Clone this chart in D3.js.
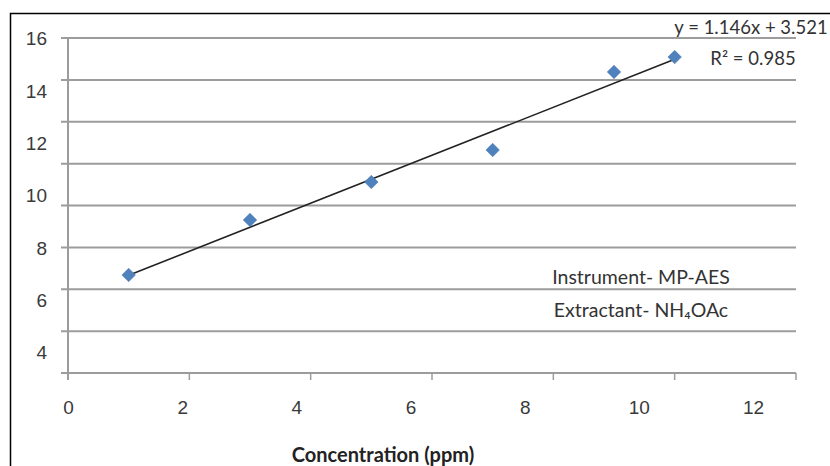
<!DOCTYPE html>
<html>
<head>
<meta charset="utf-8">
<script src="https://cdn.jsdelivr.net/npm/d3@7/dist/d3.min.js"></script>
<style>
html,body{margin:0;padding:0;background:#fff;}
svg{display:block;}
</style>
</head>
<body>
<svg id="chart" width="830" height="466"></svg>
<script>
// ---- data ----
const concentration = [1, 3, 5, 7, 9, 10];
const intensity = [4.68, 7.31, 9.12, 10.65, 14.38, 15.09];
const gridValues = [0, 2, 4, 6, 8, 10, 12, 14, 16];
const yTickLabels = [4, 6, 8, 10, 12, 14, 16];
const xTickValues = [0, 2, 4, 6, 8, 10, 12];
const slope = 1.146, intercept = 3.521, r2 = 0.985;
const equationText = "y = 1.146x + 3.521";
const r2Text = "R² = 0.985";
const noteLines = ["Instrument- MP-AES", "Extractant- NH₄OAc"];
const xTitle = "Concentration (ppm)";

const svg = d3.select("#chart");

// frame
svg.append("path").attr("d", "M10.5,466 L10.5,13.5 L830,13.5")
  .attr("fill", "none").attr("stroke", "#000").attr("stroke-width", 1.5);

const x = d3.scaleLinear().domain([0, 12]).range([68, 796]);
const y = d3.scaleLinear().domain([0, 16]).range([373, 38]);
// label placement scales (labels in the reference sit offset from their gridlines)
const xLab = d3.scaleLinear().domain([0, 12]).range([68, 753]);
const yLab = d3.scaleLinear().domain([4, 16]).range([352, 38]);

const gridColor = "#9c9c9c";

// horizontal gridlines
svg.append("g").selectAll("line").data(gridValues).join("line")
  .attr("x1", 61).attr("x2", x(12))
  .attr("y1", d => y(d)).attr("y2", d => y(d))
  .attr("stroke", gridColor).attr("stroke-width", 2);

// y axis line
svg.append("line").attr("x1", x(0)).attr("x2", x(0))
  .attr("y1", y(16)).attr("y2", y(0) + 7)
  .attr("stroke", gridColor).attr("stroke-width", 2);

// x ticks
svg.append("g").selectAll("line").data(xTickValues.slice(1)).join("line")
  .attr("x1", d => x(d)).attr("x2", d => x(d))
  .attr("y1", y(0)).attr("y2", y(0) + 7)
  .attr("stroke", gridColor).attr("stroke-width", 1.5);

const tickFont = "Liberation Sans, Arial, sans-serif";
// tick labels via axes
const yAxis = svg.append("g").attr("transform", "translate(47,0)")
  .call(d3.axisLeft(yLab).tickValues(yTickLabels).tickSize(0).tickPadding(0));
yAxis.select(".domain").remove();
yAxis.selectAll("text").attr("font-family", tickFont)
  .attr("font-size", 19).attr("fill", "#3a3a3a").attr("dy", "0.36em");

const xAxis = svg.append("g").attr("transform", "translate(0,400)")
  .call(d3.axisBottom(xLab).tickValues(xTickValues).tickSize(0).tickPadding(0));
xAxis.select(".domain").remove();
xAxis.selectAll("text").attr("font-family", tickFont)
  .attr("font-size", 19).attr("fill", "#3a3a3a").attr("dy", "0.71em");

// trend line
svg.append("line")
  .attr("x1", x(concentration[0])).attr("y1", y(slope * concentration[0] + intercept))
  .attr("x2", x(concentration[concentration.length - 1]))
  .attr("y2", y(slope * concentration[concentration.length - 1] + intercept))
  .attr("stroke", "#222").attr("stroke-width", 1.6);

// markers
const pts = concentration.map((c, i) => [c, intensity[i]]);
svg.append("g").selectAll("path").data(pts).join("path")
  .attr("d", d3.symbol().type(d3.symbolSquare).size(92))
  .attr("transform", d => `translate(${x(d[0])},${y(d[1])}) rotate(45)`)
  .attr("fill", "#4f81bd").attr("stroke", "#4a7ab5").attr("stroke-width", 0.5);

const calFont = "Lato, 'Open Sans', sans-serif";
// equation
svg.append("text").attr("x", 751).attr("y", 34).attr("text-anchor", "middle")
  .attr("font-family", calFont).attr("font-size", 18.5).attr("fill", "#333").text(equationText);
svg.append("text").attr("x", 753).attr("y", 65).attr("text-anchor", "middle")
  .attr("font-family", calFont).attr("font-size", 18.5).attr("fill", "#333").text(r2Text);

// notes
svg.append("g").selectAll("text").data(noteLines).join("text")
  .attr("x", 641).attr("y", (d, i) => 284 + i * 33).attr("text-anchor", "middle")
  .attr("font-family", calFont).attr("font-size", 19.5).attr("fill", "#333").text(d => d);

// x title
svg.append("text").attr("x", 383).attr("y", 462).attr("text-anchor", "middle")
  .attr("font-family", calFont).attr("font-size", 20).attr("font-weight", "bold")
  .attr("fill", "#222").text(xTitle);
</script>
</body>
</html>
